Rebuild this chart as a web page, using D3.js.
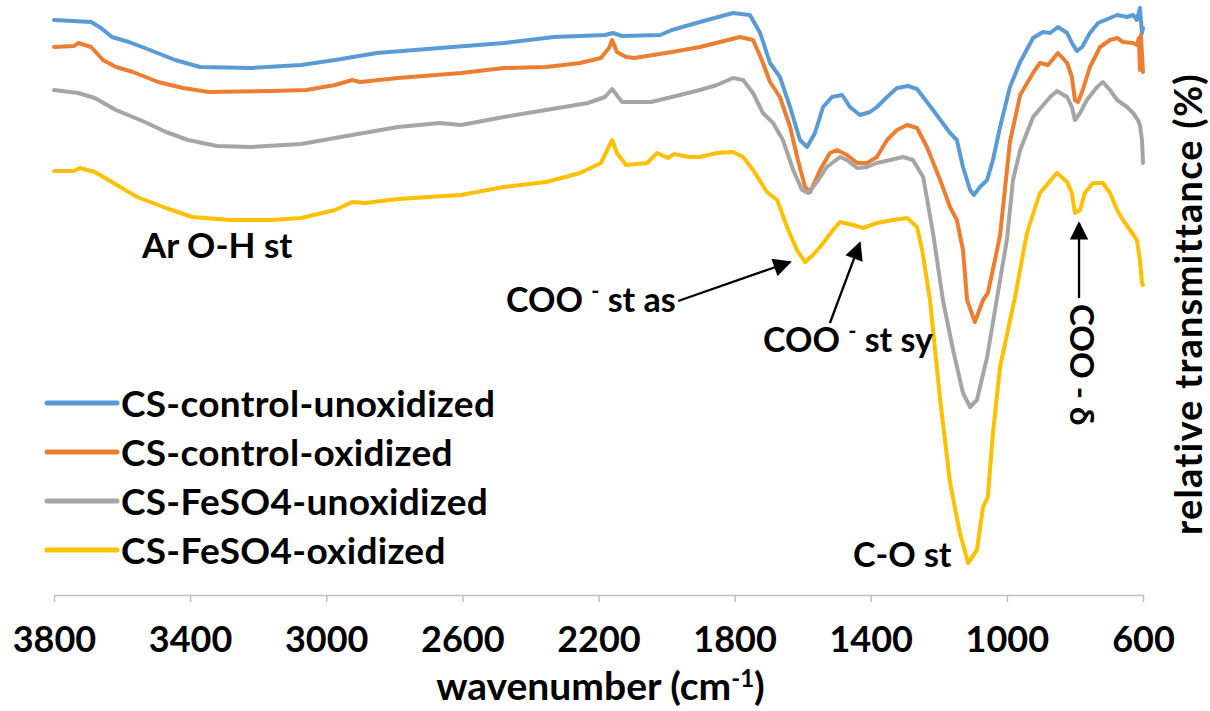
<!DOCTYPE html>
<html>
<head>
<meta charset="utf-8">
<script src="https://cdn.jsdelivr.net/npm/d3@7"></script>
<style>
  body { margin: 0; background: #fff; }
  text { font-family: Lato, "Open Sans", sans-serif; font-weight: 700; fill: #000; }
</style>
</head>
<body>
<svg id="chart" width="1210" height="711"></svg>
<script>
// FTIR spectra: [wavenumber (cm-1), relative transmittance]
const seriesNames = ["CS-control-unoxidized", "CS-control-oxidized", "CS-FeSO4-unoxidized", "CS-FeSO4-oxidized"];
const seriesColors = ["#5B9BD5", "#ED7D31", "#A5A5A5", "#FFC000"];

const controlUnoxidized = [
  [3800,115.0],[3691,114.6],[3662,113.4],[3630,111.6],[3580,110.6],[3518,109.0],[3444,107.0],[3371,105.6],
  [3221,105.4],[3074,106.0],[2974,107.0],[2851,108.4],[2666,109.4],[2478,110.4],[2331,111.6],[2181,112.0],
  [2157,112.4],[2131,111.8],[2019,112.0],[1984,113.0],[1902,114.6],[1805,116.4],[1755,116.0],[1725,112.4],
  [1696,106.4],[1667,103.6],[1637,97.6],[1608,91.0],[1587,89.6],[1564,92.4],[1540,97.6],[1514,99.6],
  [1484,100.0],[1461,97.6],[1432,96.0],[1402,96.6],[1382,97.6],[1352,99.6],[1323,101.4],[1290,101.8],
  [1264,101.2],[1217,97.0],[1167,92.4],[1147,91.0],[1129,85.6],[1108,81.0],[1097,80.0],[1079,81.6],
  [1058,83.0],[1041,87.0],[1020,93.6],[991,101.6],[961,106.6],[923,111.4],[894,112.6],[873,112.4],
  [850,113.6],[823,112.4],[809,110.4],[794,108.8],[779,109.6],[756,112.4],[732,114.4],[697,115.4],
  [676,116.0],[647,115.6],[629,116.0],[618,115.0],[609,117.4],[603,112.4],[600,113.4]
];

const controlOxidized = [
  [3800,109.6],[3741,109.8],[3729,110.4],[3691,109.6],[3656,107.0],[3618,105.6],[3568,104.6],[3494,102.6],
  [3421,101.4],[3345,100.6],[3159,100.8],[3059,101.0],[2974,102.0],[2924,103.0],[2901,102.6],[2789,103.4],
  [2604,104.4],[2478,105.4],[2354,105.6],[2254,106.4],[2193,107.4],[2169,109.4],[2160,111.0],[2146,108.6],
  [2119,107.6],[2095,107.4],[1984,108.6],[1902,109.6],[1843,110.6],[1784,111.6],[1746,111.0],[1720,107.0],
  [1696,102.6],[1667,99.6],[1637,93.6],[1614,87.0],[1593,81.6],[1578,80.6],[1549,85.0],[1520,88.4],
  [1499,89.0],[1470,88.0],[1440,86.4],[1411,86.4],[1382,87.6],[1352,91.0],[1323,93.0],[1293,94.0],
  [1264,93.4],[1235,89.6],[1196,83.0],[1167,77.6],[1147,75.0],[1129,69.0],[1117,59.0],[1094,54.6],
  [1070,59.0],[1056,60.4],[1035,67.0],[1020,72.0],[1006,81.0],[991,90.6],[961,100.0],[923,104.4],
  [903,106.4],[879,106.0],[850,108.4],[823,106.4],[809,103.6],[800,99.0],[791,98.6],[777,101.0],
  [756,105.6],[726,109.6],[697,111.0],[676,111.4],[659,110.6],[629,110.4],[618,110.0],[612,111.4],
  [609,105.0],[606,112.0],[600,104.6]
];

const feso4Unoxidized = [
  [3800,101.0],[3729,100.4],[3680,99.4],[3618,97.0],[3533,94.6],[3471,92.6],[3406,91.0],[3321,89.8],
  [3221,89.6],[3074,90.2],[2974,91.4],[2924,92.0],[2789,93.6],[2666,94.4],[2604,94.0],[2478,95.6],
  [2354,97.0],[2231,98.4],[2181,99.6],[2160,101.2],[2131,98.6],[2046,98.6],[1984,99.6],[1902,101.0],
  [1852,102.0],[1805,103.4],[1775,103.0],[1746,100.4],[1717,96.4],[1687,94.4],[1658,91.0],[1628,85.0],
  [1602,81.0],[1584,80.4],[1558,82.6],[1529,85.6],[1490,87.6],[1470,87.0],[1440,85.4],[1411,85.6],
  [1382,86.4],[1343,87.0],[1305,87.6],[1276,87.0],[1246,83.6],[1217,72.4],[1188,59.0],[1158,49.0],
  [1129,40.4],[1108,37.6],[1088,39.0],[1058,47.6],[1020,63.0],[1000,71.0],[982,83.0],[961,89.0],
  [923,95.6],[873,99.6],[853,100.8],[823,99.6],[809,97.6],[800,95.0],[785,96.4],[765,99.0],
  [735,101.6],[718,102.6],[697,101.0],[676,99.0],[647,97.6],[629,96.4],[615,95.0],[609,94.0],
  [603,91.0],[600,86.4]
];

const feso4Oxidized = [
  [3800,84.8],[3741,84.8],[3724,85.4],[3680,84.6],[3630,82.6],[3556,79.6],[3471,77.4],[3394,75.6],
  [3283,75.0],[3159,75.0],[3074,75.4],[2974,77.0],[2924,78.6],[2886,78.4],[2789,79.2],[2604,80.0],
  [2478,81.6],[2354,82.6],[2254,84.4],[2193,86.4],[2160,91.0],[2146,88.4],[2119,86.0],[2057,86.4],
  [2028,88.4],[1996,87.4],[1978,88.2],[1934,87.6],[1902,87.6],[1852,88.4],[1805,88.6],[1775,87.6],
  [1746,85.0],[1705,80.6],[1675,79.0],[1646,73.6],[1617,69.0],[1593,66.6],[1570,68.0],[1549,69.6],
  [1511,73.0],[1490,74.6],[1452,74.0],[1423,73.4],[1382,74.4],[1335,75.0],[1293,75.4],[1264,73.6],
  [1249,69.0],[1226,59.0],[1196,39.0],[1167,22.4],[1138,12.4],[1114,6.4],[1088,9.0],[1070,17.6],
  [1056,19.6],[1041,32.4],[1020,45.6],[976,59.6],[941,72.4],[903,80.4],[853,84.4],[823,82.6],
  [809,80.4],[800,76.4],[785,77.0],[771,80.4],[747,82.4],[718,82.4],[697,80.4],[676,77.0],
  [659,75.0],[638,73.0],[618,71.0],[609,67.0],[603,62.4],[600,62.0]
];

const seriesData = [controlUnoxidized, controlOxidized, feso4Unoxidized, feso4Oxidized];
const xTickValues = [3800, 3400, 3000, 2600, 2200, 1800, 1400, 1000, 600];

// Band annotations: arrow tail and head in [wavenumber, transmittance]
const bandArrows = [
  { from: [1966, 58.8], to: [1637, 66.6] },   // COO- asymmetric stretch
  { from: [1520, 54.4], to: [1432, 70.4] },   // COO- symmetric stretch
  { from: [788, 59.4],  to: [788, 74.4] }     // COO- bending
];

const svg = d3.select("#chart");
const margin = { left: 54, right: 1143, top: 0, bottom: 595 };

const x = d3.scaleLinear().domain([3800, 600]).range([margin.left, margin.right]);
const y = d3.scaleLinear().domain([0, 119]).range([margin.bottom, margin.top]);

// x axis
const xAxis = svg.append("g")
  .attr("transform", `translate(0,${margin.bottom})`)
  .call(d3.axisBottom(x).tickValues(xTickValues).tickFormat(d3.format("d")).tickSize(7).tickSizeOuter(0));
xAxis.select(".domain").attr("stroke", "#BFBFBF").attr("stroke-width", 1.5);
xAxis.selectAll(".tick line").attr("stroke", "#BFBFBF").attr("stroke-width", 1.5);
xAxis.selectAll(".tick text")
  .attr("y", 57).attr("dy", 0)
  .style("font-family", "Lato, sans-serif").style("font-weight", 700)
  .style("font-size", "36px").attr("fill", "#000");

// axis titles
const xTitle = svg.append("text")
  .attr("x", (margin.left + margin.right) / 2 + 2).attr("y", 700)
  .attr("text-anchor", "middle").style("font-size", "39px");
xTitle.append("tspan").text("wavenumber (cm");
xTitle.append("tspan").attr("dy", -13).style("font-size", "24px").text("-1");
xTitle.append("tspan").attr("dy", 13).text(")");

svg.append("text")
  .attr("transform", "translate(1202,304) rotate(-90)")
  .attr("text-anchor", "middle").style("font-size", "38px")
  .style("letter-spacing", "1.2px")
  .text("relative transmittance (%)");

// spectra
const line = d3.line().x(d => x(d[0])).y(d => y(d[1]));
svg.append("g").selectAll("path")
  .data(seriesData)
  .join("path")
  .attr("d", line)
  .attr("fill", "none")
  .attr("stroke", (d, i) => seriesColors[i])
  .attr("stroke-width", 4)
  .attr("stroke-linejoin", "round")
  .attr("stroke-linecap", "round");

// legend
const legendRows = [403, 452, 501, 550];
const legend = svg.append("g").selectAll("g")
  .data(seriesNames)
  .join("g")
  .attr("transform", (d, i) => `translate(0,${legendRows[i]})`);
legend.append("line")
  .attr("x1", 47).attr("x2", 117)
  .attr("stroke", (d, i) => seriesColors[i])
  .attr("stroke-width", 5).attr("stroke-linecap", "round");
legend.append("text")
  .attr("x", 121).attr("y", 14)
  .style("font-size", "37px")
  .style("letter-spacing", "0.3px")
  .text(d => d);

// arrows
const defs = svg.append("defs");
defs.append("marker")
  .attr("id", "arrowHead")
  .attr("viewBox", "0 0 10 10")
  .attr("refX", 9).attr("refY", 5)
  .attr("markerWidth", 9).attr("markerHeight", 8)
  .attr("markerUnits", "strokeWidth")
  .attr("orient", "auto")
  .append("path").attr("d", "M0,0 L10,5 L0,10 Z").attr("fill", "#000");

svg.append("g").selectAll("line")
  .data(bandArrows)
  .join("line")
  .attr("x1", d => x(d.from[0])).attr("y1", d => y(d.from[1]))
  .attr("x2", d => x(d.to[0])).attr("y2", d => y(d.to[1]))
  .attr("stroke", "#000").attr("stroke-width", 2.3)
  .attr("marker-end", "url(#arrowHead)");

// band labels
const labelSize = "34px";
svg.append("text").attr("x", 142).attr("y", 258).style("font-size", "35px").text("Ar O-H st");

function carboxylLabel(px, py, suffix) {
  const t = svg.append("text").attr("x", px).attr("y", py).style("font-size", labelSize);
  t.append("tspan").text("COO ");
  t.append("tspan").attr("dy", -13).style("font-size", "22px").text("-");
  t.append("tspan").attr("dy", 13).text(" " + suffix);
  return t;
}
carboxylLabel(506, 312, "st as");
carboxylLabel(763, 352, "st sy");

svg.append("text").attr("x", 853).attr("y", 567).style("font-size", labelSize).text("C-O st");

svg.append("text")
  .attr("transform", "translate(1070,304) rotate(90)")
  .style("font-size", "33px")
  .text("COO - \u03B4");
</script>
</body>
</html>
